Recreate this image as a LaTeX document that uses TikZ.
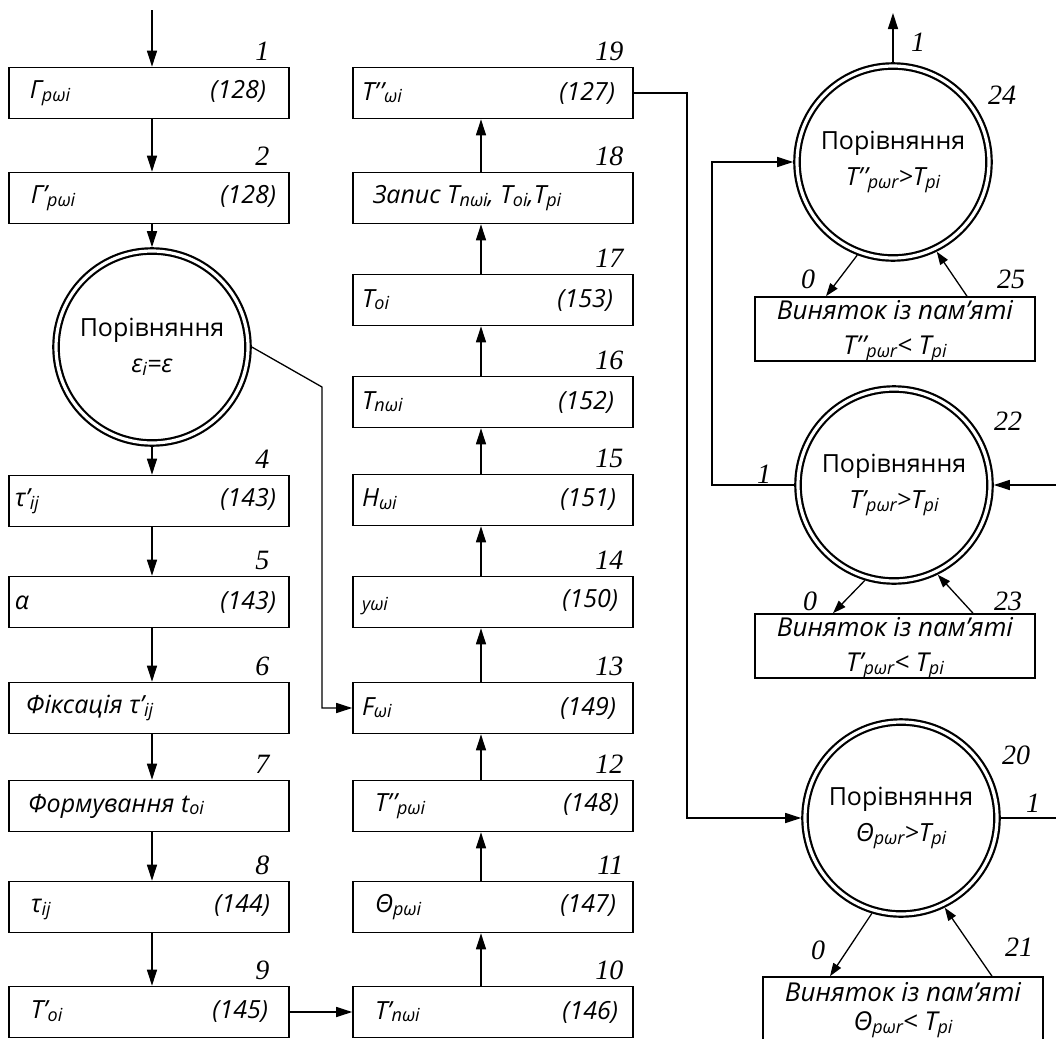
\documentclass[tikz,border=0pt]{standalone}
\usepackage{fontspec}
\setmainfont{Open Sans}
\newfontfamily\numfont{Liberation Serif}
\usetikzlibrary{positioning,arrows.meta}
\newcommand{\ix}[1]{\raisebox{-1.4pt}{\fontsize{9}{10}\selectfont #1}}
\newcommand{\row}[2]{\makebox[134pt][s]{#1\hfill#2}}
\newcommand{\pp}{’\kern0.6pt’}

\begin{document}
\begin{tikzpicture}[x=0.5pt, y=-0.5pt,
  blk/.style={rectangle, draw, line width=0.8pt, minimum width=140pt,
              minimum height=25.5pt, inner xsep=3pt, inner ysep=0pt,
              font=\fontsize{12.5}{14}\selectfont\itshape},
  cmp/.style={circle, draw, line width=1.1pt, double, double distance=1.6pt,
              minimum size=96pt, inner sep=0pt, outer sep=1.9pt, align=center,
              font=\fontsize{12.5}{18}\selectfont},
  exc/.style={rectangle, draw, line width=0.8pt, minimum width=140pt,
              minimum height=32pt, inner sep=0pt},
  ext/.style={inner sep=0pt, align=center, font=\fontsize{13}{17.5}\selectfont\itshape},
  num/.style={inner sep=0pt, font=\numfont\itshape\fontsize{14}{16}\selectfont},
  nL/.style={label={[num, anchor=south east, xshift=-10pt, yshift=3pt]north east:#1}},
  nM/.style={label={[num, anchor=south east, xshift=-5pt, yshift=3pt]north east:#1}},
  e/.style={line width=0.65pt},
  ea/.style={e, -{Triangle[length=8pt, width=5pt]}},
  eb/.style={e, -{Triangle[length=6.5pt, width=4.5pt]}}
]
  \useasboundingbox (0,0) rectangle (1056,1039);
  % helper coordinates
  \coordinate (lx) at (152,0);
  \coordinate (mx) at (481,0);
  \coordinate (in) at (152,10);
  \coordinate (k1) at (322,387);
  \coordinate (k2) at (687,0);
  \coordinate (k3) at (712,0);
  \coordinate (re) at (1056,0);
  \coordinate (tp) at (0,13);

  % left column
  \node[blk, nL=1] (b1) at (149,93) {\row{\hspace*{7.5pt}Γ\ix{pωi}}{(128)\hspace*{8.5pt}}};
  \node[blk, nL=2] (b2) at (149,198) {\row{\hspace*{8pt}Γ’\ix{pωi}}{(128)\hspace*{3.5pt}}};
  \node[cmp] (c3) at (152,347) {Порівняння\\\textit{ε\ix{i}=ε}};
  \node[blk, nL=4] (b4) at (149,501) {\row{τ'\ix{ij}}{(143)\hspace*{3.5pt}}};
  \node[blk, nL=5] (b5) at (149,602) {\row{α}{(143)\hspace*{3.5pt}}};
  \node[blk, nL=6] (b6) at (149,708) {\row{\hspace*{5.5pt}Фіксація τ'\ix{ij}}{}};
  \node[blk, nL=7] (b7) at (149,806) {\row{\hspace*{6.5pt}Формування t\ix{oi}}{}};
  \node[blk, nL=8] (b8) at (149,907) {\row{\hspace*{8pt}τ\ix{ij}}{(144)\hspace*{6.5pt}}};
  \node[blk, nL=9] (b9) at (149,1012) {\row{\hspace*{8pt}T’\ix{oi}}{(145)\hspace*{7.5pt}}};

  % middle column
  \node[blk, nM=10] (b10) at (493,1012) {\row{\hspace*{8pt}T’\ix{пωi}}{(146)\hspace*{4.5pt}}};
  \node[blk, nM=11] (b11) at (493,907) {\row{\hspace*{8pt}Θ\ix{pωi}}{(147)\hspace*{5.5pt}}};
  \node[blk, nM=12] (b12) at (493,806) {\row{\hspace*{8pt}T\pp\ix{pωi}}{(148)\hspace*{4pt}}};
  \node[blk, nM=13] (b13) at (493,708) {\row{\hspace*{1.5pt}F\ix{ωi}}{(149)\hspace*{5.5pt}}};
  \node[blk, nM=14] (b14) at (493,602) {\row{\hspace*{1.5pt}\ix{yωi}}{(150)\hspace*{4.5pt}}};
  \node[blk, nM=15] (b15) at (493,500) {\row{\hspace*{1.5pt}H\ix{ωi}}{(151)\hspace*{5.5pt}}};
  \node[blk, nM=16] (b16) at (493,402) {\row{\hspace*{1.5pt}T\ix{пωi}}{(152)\hspace*{6.5pt}}};
  \node[blk, nM=17] (b17) at (493,300) {\row{\hspace*{1.5pt}T\ix{oi}}{(153)\hspace*{7pt}}};
  \node[blk, nM=18] (b18) at (493,198) {\row{\hspace*{7pt}Запис T\ix{пωi}, T\ix{oi},T\ix{pi}}{}};
  \node[blk, nM=19] (b19) at (493,93) {\row{\hspace*{1.5pt}T\pp\ix{ωi}}{(127)\hspace*{6pt}}};

  % comparisons on the right
  \node[cmp] (c24) at (893,162) {Порівняння\\\textit{T\pp\ix{pωr}>T\ix{pi}}};
  \node[exc] (x25) at (895,329) {};
  \node[ext] (t25) at (895,331) {Виняток із пам’яті\\T\pp\ix{pωr}< T\ix{pi}};
  \node[cmp] (c22) at (894,485) {Порівняння\\\textit{T’\ix{pωr}>T\ix{pi}}};
  \node[exc] (x23) at (895,646) {};
  \node[ext] (t23) at (895,648) {Виняток із пам’яті\\T’\ix{pωr}< T\ix{pi}};
  \node[cmp] (c20) at (901,818) {Порівняння\\\textit{Θ\ix{pωr}>T\ix{pi}}};
  \node[exc] (x21) at (903,1009) {};
  \node[ext, font=\fontsize{13}{14.5}\selectfont\itshape] (t21) at (903,1010) {Виняток із пам’яті\\Θ\ix{pωr}< T\ix{pi}};

  % numbers
  \node[num] (n24) at (1002,95) {24};
  \node[num] (n22) at (1008,421) {22};
  \node[num] (n20) at (1016,755) {20};
  \node[num] (n25) at (1011,279) {25};
  \node[num] (n23) at (1008,601) {23};
  \node[num] (n21) at (1019,947) {21};
  \node[num] (z24) at (808,279) {0};
  \node[num] (z22) at (810,601) {0};
  \node[num] (z20) at (818,950) {0};
  \node[num] (o24) at (918,42) {1};
  \node[num] (o22) at (764,474) {1};
  \node[num] (o20) at (1033,803) {1};

  % connectors
  \draw[ea] (in) -- (b1.north -| lx);
  \draw[ea] (b1.south -| lx) -- (b2.north -| lx);
  \draw[ea] (b2.south -| lx) -- (c3.north);
  \draw[ea] (c3.south) -- (b4.north -| lx);
  \foreach \a/\b in {b4/b5, b5/b6, b6/b7, b7/b8, b8/b9}
    \draw[ea] (\a.south -| lx) -- (\b.north -| lx);
  \draw[ea] (b9) -- (b10);
  \foreach \a/\b in {b10/b11, b11/b12, b12/b13, b13/b14, b14/b15, b15/b16, b16/b17, b17/b18, b18/b19}
    \draw[ea] (\a.north -| mx) -- (\b.south -| mx);
  \draw[ea] (c3.east) -- (k1) -- (k1 |- b13.west) -- (b13.west);
  \draw[ea] (b19.east) -- (b19.east -| k2) -- (k2 |- c20.west) -- (c20.west);
  \draw[ea] (c22.west) -- (c22.west -| k3) -- (k3 |- c24.west) -- (c24.west);
  \draw[ea] (c22.east -| re) -- (c22.east);
  \draw[e] (c20.east) -- (c20.east -| re);
  \draw[ea] (c24.north) -- (c24.north |- tp);
  \draw[eb] (c24.-111) -- ([xshift=-34.5pt]x25.north);
  \draw[eb] ([xshift=36pt]x25.north) -- (c24.-64);
  \draw[eb] (c22.-107) -- ([xshift=-31pt]x23.north);
  \draw[eb] ([xshift=39pt]x23.north) -- (c22.-64);
  \draw[eb] (c20.-107) -- ([xshift=-36.5pt]x21.north);
  \draw[eb] ([xshift=44.5pt]x21.north) -- (c20.-64);
\end{tikzpicture}
\end{document}
